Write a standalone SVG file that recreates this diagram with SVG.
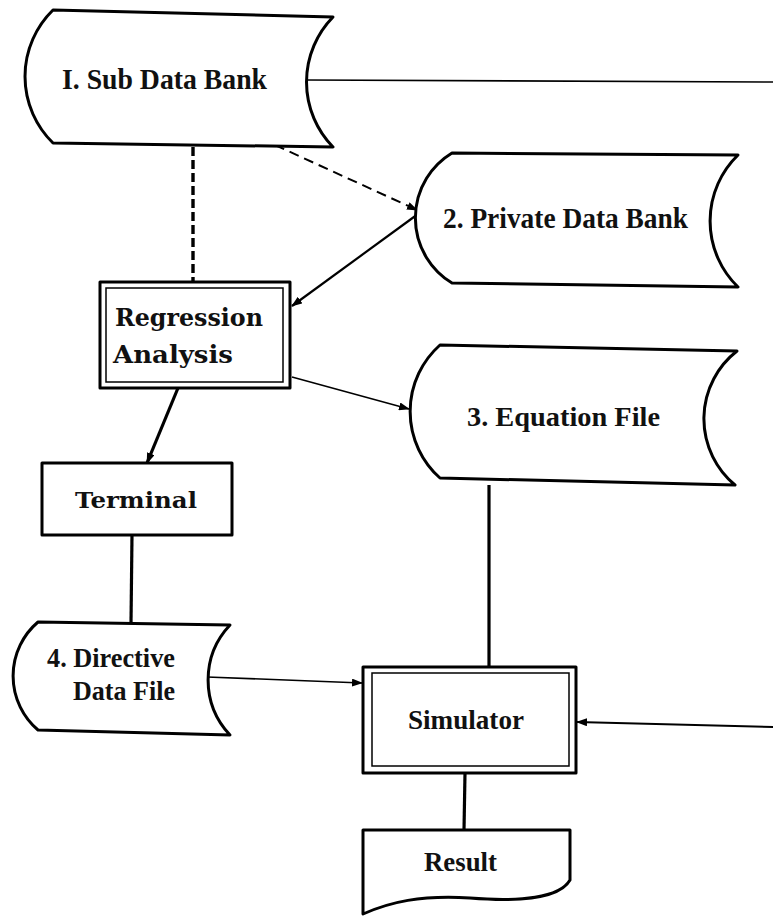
<svg xmlns="http://www.w3.org/2000/svg" width="773" height="918" viewBox="0 0 773 918">
  <style>
    .shape { fill: #ffffff; stroke: #000000; stroke-width: 3; stroke-linejoin: round; }
    .inner { fill: none; stroke: #000000; stroke-width: 1.5; }
    .link { fill: none; stroke: #000000; stroke-width: 1.6; }
    .heavy { fill: none; stroke: #000000; stroke-width: 3.2; }
    .dash { fill: none; stroke: #000000; stroke-width: 2; stroke-dasharray: 10 6; }
    .dashHeavy { fill: none; stroke: #000000; stroke-width: 3.4; stroke-dasharray: 9 4; }
    .lbl { font-family: "Liberation Serif", "Times New Roman", serif; font-weight: bold; fill: #111111; }
    .slab { font-family: "DejaVu Serif", "Liberation Serif", serif; font-weight: bold; fill: #111111; }
  </style>
  <defs>
    <marker id="arrow" markerUnits="userSpaceOnUse" markerWidth="11" markerHeight="8" refX="10" refY="4" orient="auto">
      <path d="M0,0 L11,4 L0,8 Z" fill="#000000"/>
    </marker>
  </defs>

  <rect x="0" y="0" width="773" height="918" fill="#ffffff"/>

  <!-- connectors -->
  <g id="connectors">
    <line class="link" x1="306" y1="80" x2="773" y2="82"/>
    <line class="dashHeavy" x1="193" y1="147" x2="193" y2="283"/>
    <line class="dash" x1="275" y1="145" x2="417" y2="210" marker-end="url(#arrow)"/>
    <line class="heavy" style="stroke-width:2.2" x1="418" y1="214" x2="292" y2="306" marker-end="url(#arrow)"/>
    <line class="link" x1="292" y1="377" x2="409" y2="409" marker-end="url(#arrow)"/>
    <line class="heavy" x1="178" y1="388" x2="147" y2="463" marker-end="url(#arrow)"/>
    <line class="heavy" x1="132" y1="535" x2="131" y2="623"/>
    <line class="link" x1="207" y1="677" x2="362" y2="683" marker-end="url(#arrow)"/>
    <line class="heavy" x1="489" y1="485" x2="489" y2="667"/>
    <line class="link" style="stroke-width:2" x1="773" y1="727" x2="577" y2="722" marker-end="url(#arrow)"/>
    <line class="heavy" x1="465" y1="773" x2="464" y2="830"/>
  </g>

  <!-- 1. Sub Data Bank (stored data) -->
  <g id="sub-data-bank">
    <path class="shape" d="M53,10 L333,17 A93,93 0 0 0 333,147 L53,143 A93,93 0 0 1 53,10 Z"/>
    <text class="lbl" x="62" y="89" font-size="30" textLength="205" lengthAdjust="spacingAndGlyphs">I. Sub Data Bank</text>
  </g>

  <!-- 2. Private Data Bank -->
  <g id="private-data-bank">
    <path class="shape" d="M452,153 L738,155 A92,92 0 0 0 738,287 L452,283 A76,76 0 0 1 452,153 Z"/>
    <text class="lbl" x="443" y="228" font-size="30" textLength="245" lengthAdjust="spacingAndGlyphs">2. Private Data Bank</text>
  </g>

  <!-- Regression Analysis (double-bordered process box) -->
  <g id="regression-analysis">
    <rect class="shape" x="100" y="282" width="190" height="106"/>
    <rect class="inner" x="106" y="288" width="177" height="94"/>
    <text class="slab" x="115" y="326" font-size="25" textLength="148" lengthAdjust="spacingAndGlyphs">Regression</text>
    <text class="slab" x="113" y="363" font-size="25" textLength="120" lengthAdjust="spacingAndGlyphs">Analysis</text>
  </g>

  <!-- 3. Equation File -->
  <g id="equation-file">
    <path class="shape" d="M440,345 L737,351 A86,86 0 0 0 735,485 L440,478 A89,89 0 0 1 440,345 Z"/>
    <text class="lbl" x="467" y="426" font-size="28" textLength="193" lengthAdjust="spacingAndGlyphs">3. Equation File</text>
  </g>

  <!-- Terminal -->
  <g id="terminal">
    <rect class="shape" x="42" y="463" width="190" height="72"/>
    <text class="slab" x="75" y="508" font-size="23" textLength="122" lengthAdjust="spacingAndGlyphs">Terminal</text>
  </g>

  <!-- 4. Directive Data File -->
  <g id="directive-data-file">
    <path class="shape" d="M38,622 L230,625 A80,80 0 0 0 230,735 L38,730 A71,71 0 0 1 38,622 Z"/>
    <text class="lbl" x="47" y="667" font-size="27" textLength="128" lengthAdjust="spacingAndGlyphs">4. Directive</text>
    <text class="lbl" x="73" y="700" font-size="27" textLength="102" lengthAdjust="spacingAndGlyphs">Data File</text>
  </g>

  <!-- Simulator (double-bordered process box) -->
  <g id="simulator">
    <rect class="shape" x="363" y="667" width="213" height="106"/>
    <rect class="inner" x="372" y="673" width="197" height="93"/>
    <text class="lbl" x="408" y="729" font-size="27" textLength="116" lengthAdjust="spacingAndGlyphs">Simulator</text>
  </g>

  <!-- Result (document) -->
  <g id="result">
    <path class="shape" d="M363,830 L570,830 L570,880 C560,898 520,902 470,898 C420,895 390,902 363,914 Z"/>
    <text class="lbl" x="424" y="871" font-size="27" textLength="73" lengthAdjust="spacingAndGlyphs">Result</text>
  </g>
</svg>
